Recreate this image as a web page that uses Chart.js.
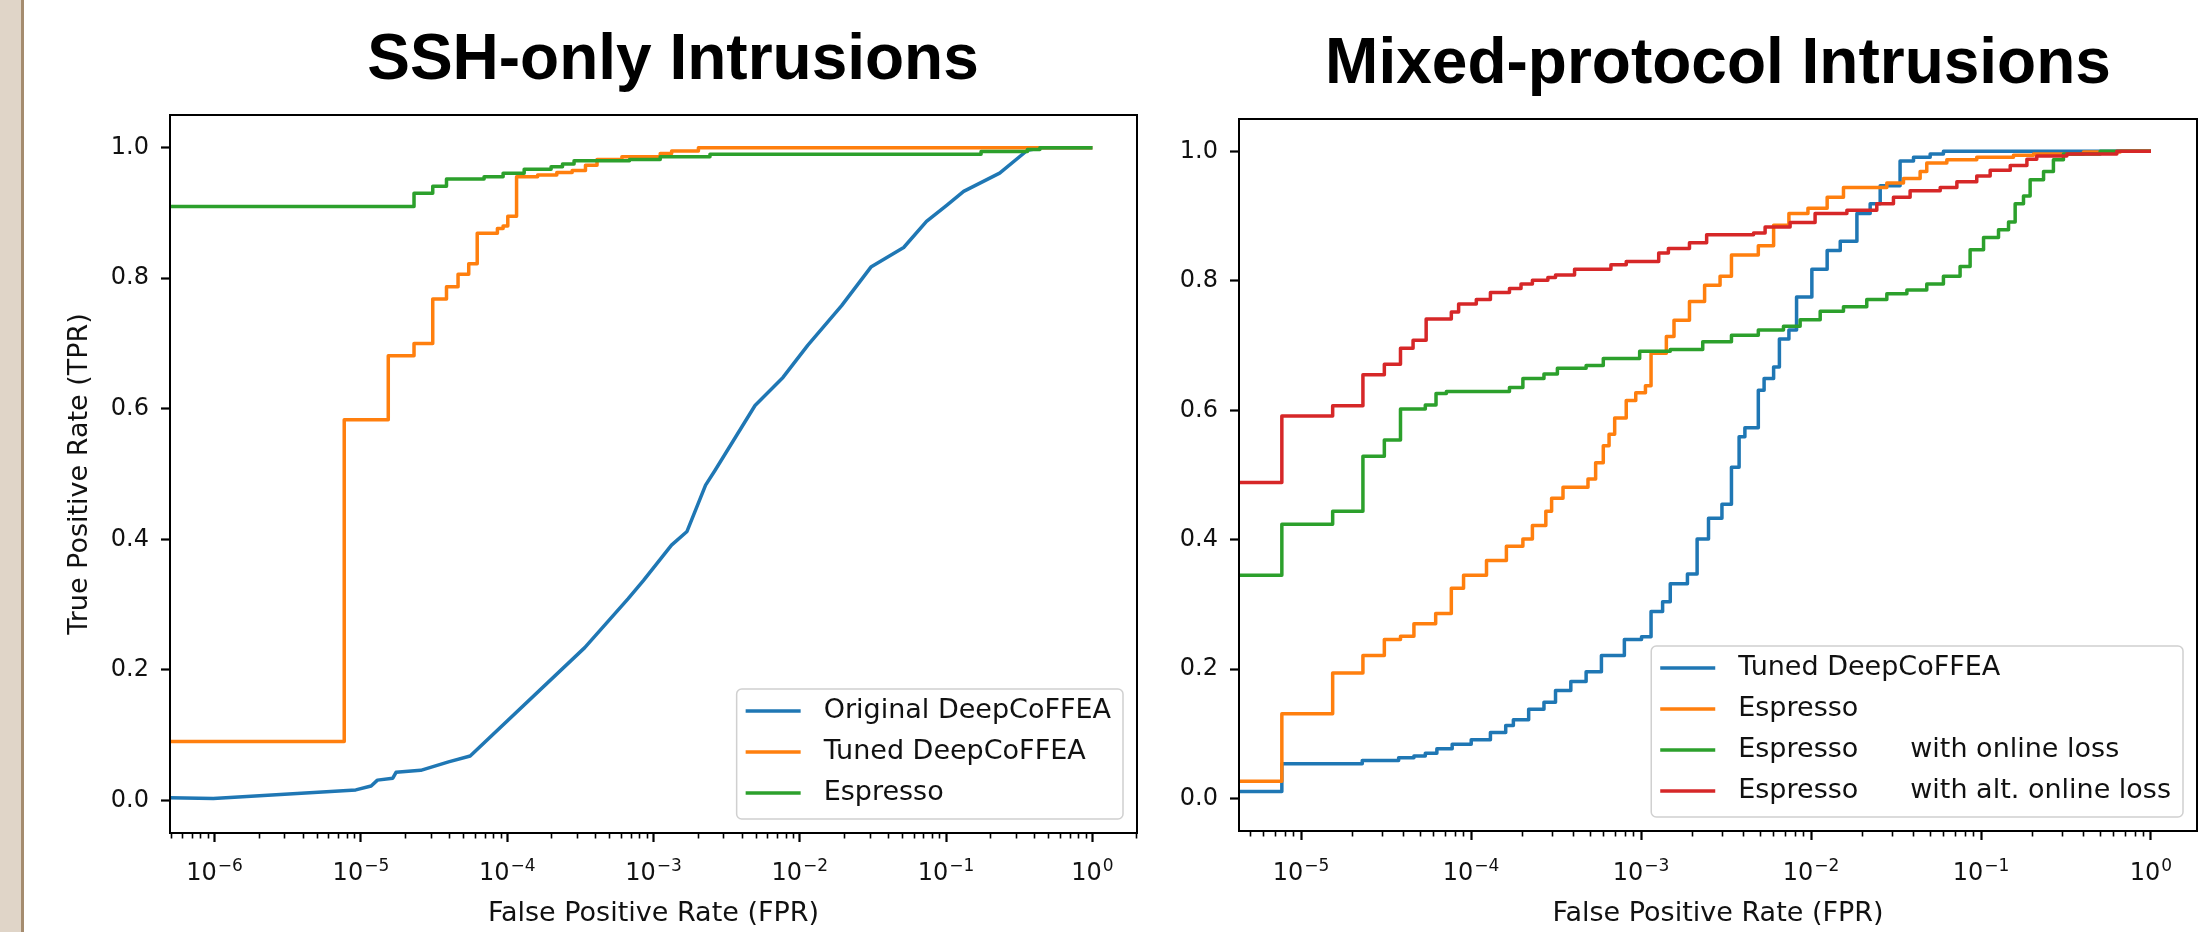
<!DOCTYPE html>
<html><head><meta charset="utf-8">
<script src="https://cdn.jsdelivr.net/npm/chart.js@4.4.1/dist/chart.umd.min.js"></script>
<style>
html,body{margin:0;padding:0;background:#fff;}
body{width:2200px;height:932px;position:relative;overflow:hidden;font-family:"DejaVu Sans";}
#stripe{position:absolute;left:0;top:0;width:21px;height:932px;background:#e0d5c8;border-right:3px solid #a58c6f;}
canvas{position:absolute;top:0;}
#c1{left:24px;}
#c2{left:1150px;}
.title{position:absolute;font-family:"Liberation Sans",Arial,sans-serif;font-weight:bold;font-size:64px;line-height:64px;white-space:nowrap;color:#000;transform:translateX(-50%);}
</style></head><body>
<div id="stripe"></div>
<div class="title" style="left:673px;top:25px">SSH-only Intrusions</div>
<div class="title" style="left:1718px;top:29px">Mixed-protocol Intrusions</div>
<canvas id="c1" width="1126" height="932"></canvas>
<canvas id="c2" width="1050" height="932"></canvas>
<script>
// ---------- tick labels (base^exponent) ----------
const sshXTickValues = [1e-6, 1e-5, 1e-4, 1e-3, 1e-2, 1e-1, 1];
const sshXTickLabels = ['10^−6', '10^−5', '10^−4', '10^−3', '10^−2', '10^−1', '10^0'];
const mixXTickValues = [1e-5, 1e-4, 1e-3, 1e-2, 1e-1, 1];
const mixXTickLabels = ['10^−5', '10^−4', '10^−3', '10^−2', '10^−1', '10^0'];
const yTickValues = [0, 0.2, 0.4, 0.6, 0.8, 1.0];
const yTickLabels = ['0.0', '0.2', '0.4', '0.6', '0.8', '1.0'];

// ---------- series names ----------
const sshSeriesNames = ['Original DeepCoFFEA', 'Tuned DeepCoFFEA', 'Espresso'];
const mixSeriesNames = ['Tuned DeepCoFFEA', 'Espresso', 'Espresso\twith online loss', 'Espresso\twith alt. online loss'];

// ---------- SSH-only data (log10 FPR, TPR) ----------
const sshOrigLogFpr = [-6.31, -6.009, -5.035, -4.930, -4.887, -4.782, -4.760, -4.591, -4.401, -4.253, -3.470, -3.173, -3.068, -2.877, -2.771, -2.644, -2.581, -2.306, -2.115, -1.946, -1.714, -1.514, -1.290, -1.134, -0.994, -0.880, -0.634, -0.444, -0.338, 0];
const sshOrigTpr    = [0.004, 0.003, 0.016, 0.022, 0.031, 0.034, 0.043, 0.046, 0.059, 0.068, 0.234, 0.309, 0.337, 0.391, 0.412, 0.483, 0.505, 0.605, 0.648, 0.697, 0.758, 0.817, 0.847, 0.887, 0.912, 0.933, 0.961, 0.996, 1.0, 1.0];

const sshTunedLogFpr = [-7, -5.114, -4.813, -4.637, -4.509, -4.415, -4.336, -4.263, -4.205, -4.067, -4.028, -3.996, -3.936, -3.792, -3.661, -3.556, -3.465, -3.386, -3.216, -2.954, -2.876, -2.693, 0];
const sshTunedTpr    = [0.09, 0.583, 0.681, 0.700, 0.768, 0.787, 0.806, 0.822, 0.869, 0.876, 0.880, 0.895, 0.9555, 0.958, 0.962, 0.965, 0.973, 0.982, 0.986, 0.991, 0.995, 1.0, 1.0];

const sshEspLogFpr = [-7, -4.637, -4.509, -4.415, -4.158, -4.028, -3.884, -3.700, -3.622, -3.543, -3.164, -2.954, -2.614, -0.761, -0.444, -0.359, 0];
const sshEspTpr    = [0.91, 0.930, 0.941, 0.952, 0.9555, 0.9607, 0.9668, 0.9708, 0.975, 0.980, 0.982, 0.986, 0.990, 0.994, 0.997, 1.0, 1.0];

// ---------- Mixed-protocol data (log10 FPR, TPR) ----------
const mixTunedLogFpr = [-5.5, -5.113, -4.640, -4.426, -4.336, -4.269, -4.201, -4.111, -3.999, -3.886, -3.796, -3.751, -3.661, -3.571, -3.503, -3.413, -3.323, -3.233, -3.098, -2.997, -2.941, -2.873, -2.828, -2.727, -2.670, -2.603, -2.524, -2.468, -2.423, -2.389, -2.310, -2.276, -2.220, -2.186, -2.130, -2.085, -1.995, -1.905, -1.828, -1.730, -1.652, -1.593, -1.476, -1.397, -1.299, -1.221, 0];
const mixTunedTpr    = [0.011, 0.054, 0.059, 0.063, 0.066, 0.070, 0.077, 0.084, 0.091, 0.102, 0.113, 0.122, 0.138, 0.149, 0.167, 0.181, 0.196, 0.221, 0.246, 0.250, 0.289, 0.304, 0.332, 0.347, 0.401, 0.433, 0.455, 0.512, 0.559, 0.573, 0.631, 0.649, 0.667, 0.710, 0.724, 0.775, 0.818, 0.847, 0.861, 0.904, 0.919, 0.947, 0.985, 0.991, 0.996, 1.0, 1.0];

const mixEspLogFpr = [-5.5, -5.113, -4.814, -4.636, -4.510, -4.415, -4.336, -4.208, -4.116, -4.044, -3.909, -3.792, -3.695, -3.639, -3.560, -3.526, -3.459, -3.312, -3.267, -3.222, -3.188, -3.155, -3.087, -3.031, -2.974, -2.941, -2.851, -2.806, -2.715, -2.626, -2.535, -2.468, -2.310, -2.220, -2.130, -2.018, -1.905, -1.809, -1.554, -1.456, -1.358, -1.319, -1.201, -1.025, -0.809, -0.691, -0.397, -0.181, 0];
const mixEspTpr    = [0.027, 0.131, 0.194, 0.221, 0.246, 0.251, 0.270, 0.286, 0.325, 0.345, 0.368, 0.390, 0.401, 0.422, 0.444, 0.464, 0.481, 0.494, 0.519, 0.545, 0.563, 0.588, 0.615, 0.627, 0.638, 0.688, 0.714, 0.739, 0.768, 0.793, 0.807, 0.840, 0.854, 0.886, 0.904, 0.912, 0.929, 0.944, 0.951, 0.958, 0.969, 0.982, 0.987, 0.991, 0.994, 0.996, 0.999, 1.0, 1.0];

const mixOnlineLogFpr = [-5.5, -5.113, -4.814, -4.636, -4.510, -4.415, -4.269, -4.206, -4.145, -3.774, -3.695, -3.571, -3.492, -3.323, -3.222, -3.008, -2.828, -2.637, -2.468, -2.310, -2.162, -2.064, -1.946, -1.809, -1.672, -1.554, -1.436, -1.319, -1.221, -1.123, -1.064, -0.985, -0.897, -0.838, -0.799, -0.750, -0.711, -0.632, -0.574, -0.515, -0.299, 0];
const mixOnlineTpr    = [0.345, 0.424, 0.444, 0.529, 0.554, 0.602, 0.608, 0.626, 0.629, 0.635, 0.649, 0.656, 0.665, 0.669, 0.680, 0.691, 0.694, 0.706, 0.716, 0.724, 0.730, 0.740, 0.753, 0.760, 0.771, 0.780, 0.786, 0.795, 0.807, 0.822, 0.848, 0.867, 0.879, 0.891, 0.919, 0.931, 0.956, 0.969, 0.987, 0.996, 1.0, 1.0];

const mixAltLogFpr = [-5.5, -5.113, -4.814, -4.636, -4.510, -4.415, -4.341, -4.264, -4.116, -4.073, -3.969, -3.886, -3.774, -3.706, -3.639, -3.548, -3.503, -3.391, -3.177, -3.087, -2.896, -2.839, -2.715, -2.614, -2.338, -2.270, -2.123, -1.976, -1.789, -1.613, -1.515, -1.417, -1.240, -1.142, -1.025, -0.946, -0.828, -0.730, -0.672, -0.495, -0.201, 0];
const mixAltTpr    = [0.4885, 0.591, 0.607, 0.655, 0.671, 0.696, 0.708, 0.741, 0.752, 0.764, 0.771, 0.782, 0.788, 0.795, 0.801, 0.805, 0.809, 0.818, 0.825, 0.830, 0.843, 0.850, 0.859, 0.871, 0.874, 0.883, 0.890, 0.904, 0.909, 0.919, 0.929, 0.939, 0.944, 0.953, 0.962, 0.971, 0.978, 0.988, 0.993, 0.996, 1.0, 1.0];

// ---------- styling ----------
const COLORS = ['#1f77b4', '#ff7f0e', '#2ca02c', '#d62728'];
const TEXT = '#111111';
const FONT = 'DejaVu Sans';

function pts(logs, tprs) { return logs.map((l, i) => ({ x: Math.pow(10, l), y: tprs[i] })); }

function ds(label, data, i, n, stepped) {
  return { label, data, borderColor: COLORS[i], backgroundColor: COLORS[i], borderWidth: 3.5,
    pointRadius: 0, fill: false, tension: 0, stepped: stepped, borderJoinStyle: 'round',
    borderCapStyle: 'butt', order: n - i };
}

const framePlugin = {
  id: 'frameLegend',
  afterDraw(chart) {
    const ctx = chart.ctx, ca = chart.chartArea, xs = chart.scales.x;
    const o = chart.options.plugins.frameLegend;
    ctx.save();
    // minor ticks
    ctx.strokeStyle = '#000'; ctx.lineWidth = 1.6; ctx.beginPath();
    const e0 = Math.floor(Math.log10(xs.min)), e1 = Math.ceil(Math.log10(xs.max));
    for (let e = e0; e <= e1; e++) {
      for (let k = 2; k <= 9; k++) {
        const v = k * Math.pow(10, e);
        if (v < xs.min || v > xs.max) continue;
        const px = Math.round(xs.getPixelForValue(v)) + 0.5;
        ctx.moveTo(px, ca.bottom); ctx.lineTo(px, ca.bottom + 5.5);
      }
    }
    ctx.stroke();
    // x tick labels as base + superscript (mathtext style)
    ctx.fillStyle = TEXT; ctx.textBaseline = 'alphabetic'; ctx.textAlign = 'left';
    xs.ticks.forEach((t, i) => {
      const parts = o.xLabels[i].split('^');
      const px = xs.getPixelForTick(i);
      ctx.font = '24px "' + FONT + '"';
      const wb = ctx.measureText(parts[0]).width;
      ctx.font = '17px "' + FONT + '"';
      const we = ctx.measureText(parts[1]).width;
      const x0 = px - (wb + we + 1) / 2;
      ctx.font = '24px "' + FONT + '"';
      ctx.fillText(parts[0], x0, o.xLabelBase);
      ctx.font = '17px "' + FONT + '"';
      ctx.fillText(parts[1], x0 + wb + 1, o.xLabelBase - 9);
    });
    // frame
    ctx.lineWidth = 2; ctx.strokeStyle = '#000';
    ctx.strokeRect(ca.left, ca.top, ca.right - ca.left, ca.bottom - ca.top);
    // legend (lower right)
    ctx.font = '27px "' + FONT + '"';
    const items = chart.data.datasets.map(d => ({ parts: d.label.split('\t'), color: d.borderColor }));
    let textW = 0;
    items.forEach(it => {
      const w = it.parts.length > 1 ? o.col2 + ctx.measureText(it.parts[1]).width : ctx.measureText(it.parts[0]).width;
      textW = Math.max(textW, w);
    });
    const w = o.padL + o.handle + o.gap + textW + o.padR;
    const h = o.padT + (items.length - 1) * o.row + o.padB;
    const x = ca.right - o.off - w, y = ca.bottom - o.off - h;
    ctx.beginPath();
    ctx.roundRect(x, y, w, h, 5);
    ctx.fillStyle = 'rgba(255,255,255,0.85)'; ctx.fill();
    ctx.strokeStyle = '#d0d0d0'; ctx.lineWidth = 1.5; ctx.stroke();
    items.forEach((it, i) => {
      const cy = y + o.padT + i * o.row;
      ctx.strokeStyle = it.color; ctx.lineWidth = 3.5; ctx.beginPath();
      ctx.moveTo(x + o.padL, cy); ctx.lineTo(x + o.padL + o.handle, cy); ctx.stroke();
      ctx.fillStyle = TEXT; ctx.textBaseline = 'middle'; ctx.textAlign = 'left';
      const tx = x + o.padL + o.handle + o.gap;
      ctx.fillText(it.parts[0], tx, cy);
      if (it.parts[1]) ctx.fillText(it.parts[1], tx + o.col2, cy);
    });
    ctx.restore();
  }
};

function makeChart(id, datasets, xMin, xMax, xTickValues, xTickLabels, yTitle, lay) {
  return new Chart(document.getElementById(id), {
    type: 'line',
    data: { datasets },
    plugins: [framePlugin],
    options: {
      responsive: false, animation: false, devicePixelRatio: 1,
      layout: { padding: { top: lay.top, right: lay.right, bottom: 0, left: 0 } },
      plugins: {
        legend: { display: false }, tooltip: { enabled: false }, title: { display: false },
        frameLegend: { padL: 9, handle: 55, gap: 23, padR: 12, padT: 22, padB: 26, row: 41, col2: 172, off: 14,
          xLabels: xTickLabels, xLabelBase: 880 }
      },
      scales: {
        x: {
          type: 'logarithmic', min: xMin, max: xMax,
          afterBuildTicks: s => { s.ticks = xTickValues.map(v => ({ value: v })); },
          afterFit: s => { s.height = lay.xh; },
          ticks: { display: false, autoSkip: false, maxRotation: 0 },
          grid: { drawOnChartArea: false, drawTicks: true, tickLength: 9, tickWidth: 2.2, tickColor: '#000' },
          border: { display: false },
          title: { display: true, text: 'False Positive Rate (FPR)', color: TEXT,
            font: { family: FONT, size: 27 }, padding: { top: 0, bottom: 2 } }
        },
        y: {
          type: 'linear', min: -0.05, max: 1.05,
          afterBuildTicks: s => { s.ticks = yTickValues.map(v => ({ value: v })); },
          afterFit: s => { s.width = lay.yw; },
          ticks: { padding: 12, color: TEXT, font: { family: FONT, size: 24 },
            callback: (v, i) => yTickLabels[i] },
          grid: { drawOnChartArea: false, drawTicks: true, tickLength: 9, tickWidth: 2.2, tickColor: '#000' },
          border: { display: false },
          title: { display: !!yTitle, text: yTitle || '', color: TEXT,
            font: { family: FONT, size: 27 }, padding: { top: 40, bottom: 0 } }
        }
      }
    }
  });
}

makeChart('c1', [
  ds(sshSeriesNames[0], pts(sshOrigLogFpr, sshOrigTpr), 0, 3, false),
  ds(sshSeriesNames[1], pts(sshTunedLogFpr, sshTunedTpr), 1, 3, true),
  ds(sshSeriesNames[2], pts(sshEspLogFpr, sshEspTpr), 2, 3, true)
], 4.955e-7, 2.018, sshXTickValues, sshXTickLabels, 'True Positive Rate (TPR)',
  { top: 115, right: 13, xh: 99, yw: 146 });

makeChart('c2', [
  ds(mixSeriesNames[0], pts(mixTunedLogFpr, mixTunedTpr), 0, 4, true),
  ds(mixSeriesNames[1], pts(mixEspLogFpr, mixEspTpr), 1, 4, true),
  ds(mixSeriesNames[2], pts(mixOnlineLogFpr, mixOnlineTpr), 2, 4, true),
  ds(mixSeriesNames[3], pts(mixAltLogFpr, mixAltTpr), 3, 4, true)
], 4.315e-6, 1.865, mixXTickValues, mixXTickLabels, null,
  { top: 119, right: 3, xh: 101, yw: 89 });
</script>
</body></html>
